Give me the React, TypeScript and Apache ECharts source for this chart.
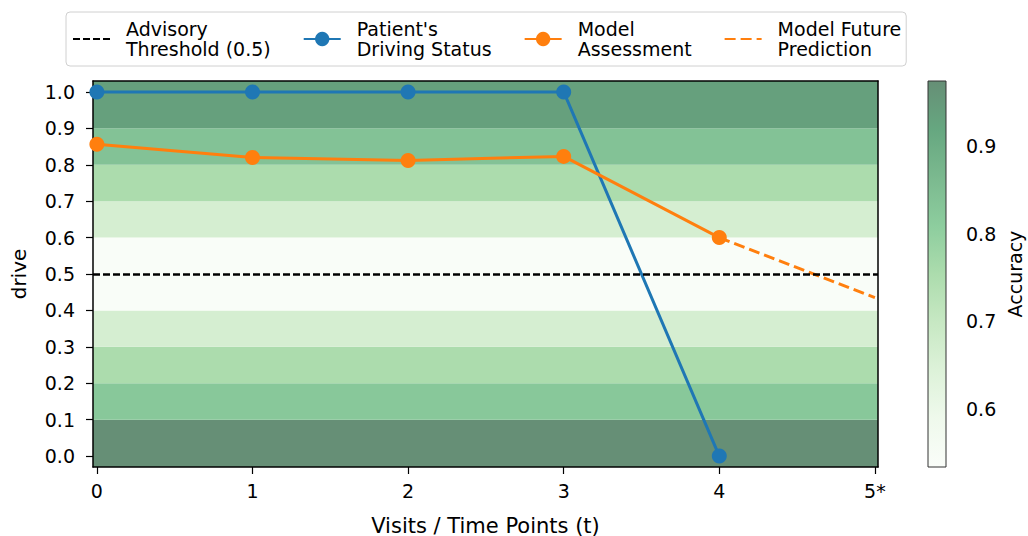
import React, { useEffect, useRef } from "react";
import * as echarts from "echarts";

// ---- data ----
const visits = [0, 1, 2, 3, 4];
const patientStatus = [1, 1, 1, 1, 0];
const modelAssessment = [0.856, 0.82, 0.812, 0.823, 0.6];
const futureVisits = [4, 5];
const futurePrediction = [0.6, 0.435];
const threshold = 0.5;

const xTickValues = [0, 1, 2, 3, 4, 5];
const xTickLabels = ["0", "1", "2", "3", "4", "5*"];
const yTickValues = [0, 0.1, 0.2, 0.3, 0.4, 0.5, 0.6, 0.7, 0.8, 0.9, 1.0];

const bandLower = [-0.05, 0.1, 0.2, 0.3, 0.4, 0.5, 0.6, 0.7, 0.8, 0.9];
const bandUpper = [0.1, 0.2, 0.3, 0.4, 0.5, 0.6, 0.7, 0.8, 0.9, 1.05];
const bandAccuracy = [0.974, 0.823, 0.753, 0.664, 0.54, 0.54, 0.664, 0.753, 0.84, 0.935];

const accuracyMin = 0.534;
const accuracyMax = 0.974;
const colorbarTicks = [0.6, 0.7, 0.8, 0.9];

const NAMES = {
  threshold: "Advisory\nThreshold (0.5)",
  patient: "Patient's\nDriving Status",
  model: "Model\nAssessment",
  future: "Model Future\nPrediction",
};

// ---- colormap (matplotlib Greens, alpha 0.6 over white) ----
const GREENS: [number, number[]][] = [
  [0, [247, 252, 245]],
  [0.125, [229, 245, 224]],
  [0.25, [199, 233, 192]],
  [0.375, [161, 217, 155]],
  [0.5, [116, 196, 118]],
  [0.625, [65, 171, 93]],
  [0.75, [35, 139, 69]],
  [0.875, [0, 109, 44]],
  [1, [0, 68, 27]],
];
const ALPHA = 0.6;
function greensAt(t: number): string {
  t = Math.max(0, Math.min(1, t));
  let i = 0;
  while (i < GREENS.length - 2 && t > GREENS[i + 1][0]) i++;
  const [t0, c0] = GREENS[i];
  const [t1, c1] = GREENS[i + 1];
  const f = (t - t0) / (t1 - t0);
  const c = c0.map((v, k) => v + (c1[k] - v) * f);
  const b = c.map((v) => Math.round(v * ALPHA + 255 * (1 - ALPHA)));
  return `rgb(${b[0]},${b[1]},${b[2]})`;
}
function accColor(a: number): string {
  return greensAt((a - accuracyMin) / (accuracyMax - accuracyMin));
}

const FONT = "DejaVu Sans";
const BLUE = "#1f77b4";
const ORANGE = "#ff7f0e";
const TICK_FS = 19;
const LABEL_FS = 21;

export default function App() {
  const ref = useRef<HTMLDivElement>(null);
  useEffect(() => {
    if (!ref.current) return;
    const chart = echarts.init(ref.current, null, { renderer: "svg" });
    const axisLineStyle = { color: "#000", width: 1.5 };
    const option: any = {
      animation: false,
      backgroundColor: "#fff",
      textStyle: { fontFamily: FONT, color: "#000" },
      legend: {
        left: 66,
        top: 12,
        orient: "horizontal",
        padding: [7, 5, 7, 6],
        itemGap: 32,
        itemWidth: 37,
        itemHeight: 18,
        backgroundColor: "#fff",
        borderColor: "#d0d0d0",
        borderWidth: 1,
        borderRadius: 4,
        textStyle: { fontFamily: FONT, fontSize: TICK_FS, lineHeight: 20, color: "#000", padding: [0, 0, 0, 11] },
        data: [
          { name: NAMES.threshold, itemStyle: { opacity: 0 } },
          { name: NAMES.patient },
          { name: NAMES.model },
          { name: NAMES.future, itemStyle: { opacity: 0 } },
        ],
      },
      grid: [
        { left: 93, top: 81, width: 785, height: 386, containLabel: false, outerBoundsMode: "none" },
        { left: 928, top: 81, width: 18, height: 386, containLabel: false, outerBoundsMode: "none" },
      ],
      xAxis: [
        {
          type: "value",
          gridIndex: 0,
          min: -0.025,
          max: 5.02,
          position: "bottom",
          z: 2,
          axisLine: { show: true, onZero: false, lineStyle: axisLineStyle },
          axisTick: { show: true, customValues: xTickValues, length: 7, lineStyle: { color: "#000", width: 1.2 } },
          axisLabel: {
            customValues: xTickValues,
            formatter: (v: number) => xTickLabels[xTickValues.indexOf(Math.round(v))] ?? "",
            fontSize: TICK_FS,
            color: "#000",
            fontFamily: FONT,
            margin: 14,
          },
          splitLine: { show: false },
          name: "Visits / Time Points (t)",
          nameLocation: "middle",
          nameGap: 48,
          nameTextStyle: { fontSize: LABEL_FS, color: "#000", fontFamily: FONT },
        },
        {
          type: "value",
          gridIndex: 0,
          min: -0.025,
          max: 5.02,
          position: "top",
          z: 2,
          axisLine: { show: true, onZero: false, lineStyle: axisLineStyle },
          axisTick: { show: false },
          axisLabel: { show: false },
          splitLine: { show: false },
        },
        { type: "value", gridIndex: 1, min: 0, max: 1, show: false },
      ],
      yAxis: [
        {
          type: "value",
          gridIndex: 0,
          min: -0.03,
          max: 1.03,
          position: "left",
          z: 2,
          axisLine: { show: true, onZero: false, lineStyle: axisLineStyle },
          axisTick: { show: true, customValues: yTickValues, length: 7, lineStyle: { color: "#000", width: 1.2 } },
          axisLabel: {
            customValues: yTickValues,
            formatter: (v: number) => v.toFixed(1),
            fontSize: TICK_FS,
            color: "#000",
            fontFamily: FONT,
            margin: 18,
          },
          splitLine: { show: false },
          name: "drive",
          nameLocation: "middle",
          nameRotate: 90,
          nameGap: 64,
          nameTextStyle: { fontSize: LABEL_FS - 1, color: "#000", fontFamily: FONT },
        },
        {
          type: "value",
          gridIndex: 0,
          min: -0.03,
          max: 1.03,
          position: "right",
          z: 2,
          axisLine: { show: true, onZero: false, lineStyle: axisLineStyle },
          axisTick: { show: false },
          axisLabel: { show: false },
          splitLine: { show: false },
        },
        {
          type: "value",
          gridIndex: 1,
          min: accuracyMin,
          max: accuracyMax,
          position: "right",
          axisLine: { show: false },
          axisTick: { show: true, customValues: colorbarTicks, length: 8, lineStyle: { color: "#000", width: 1.2 } },
          axisLabel: {
            customValues: colorbarTicks,
            formatter: (v: number) => v.toFixed(1),
            fontSize: TICK_FS,
            color: "#000",
            fontFamily: FONT,
            margin: 20,
          },
          splitLine: { show: false },
          name: "Accuracy",
          nameLocation: "middle",
          nameRotate: 90,
          nameGap: 59,
          nameTextStyle: { fontSize: 19, color: "#000", fontFamily: FONT },
        },
      ],
      series: [
        {
          type: "custom",
          name: "bands",
          xAxisIndex: 0,
          yAxisIndex: 0,
          z: 1,
          silent: true,
          data: bandLower.map((lo, i) => [lo, bandUpper[i], bandAccuracy[i]]),
          renderItem: (params: any, api: any) => {
            const lo = api.value(0);
            const hi = api.value(1);
            const acc = api.value(2);
            const cs = params.coordSys;
            const pTop = api.coord([0, hi]);
            const pBot = api.coord([0, lo]);
            const rect = echarts.graphic.clipRectByRect(
              { x: cs.x, y: pTop[1], width: cs.width, height: pBot[1] - pTop[1] },
              { x: cs.x, y: cs.y, width: cs.width, height: cs.height }
            );
            if (!rect) return null;
            return { type: "rect", shape: rect, style: { fill: accColor(acc) } };
          },
        },
        {
          type: "custom",
          name: "colorbar",
          xAxisIndex: 2,
          yAxisIndex: 2,
          silent: true,
          data: [[0, accuracyMin, accuracyMax]],
          renderItem: (params: any, api: any) => {
            const p1 = api.coord([0, api.value(2)]);
            const p2 = api.coord([1, api.value(1)]);
            const stops = GREENS.map(([t]) => ({ offset: 1 - t, color: greensAt(t) })).reverse();
            return {
              type: "rect",
              shape: { x: p1[0], y: p1[1], width: p2[0] - p1[0], height: p2[1] - p1[1] },
              style: {
                fill: new echarts.graphic.LinearGradient(0, 0, 0, 1, stops),
                stroke: "#333",
                lineWidth: 1,
              },
            };
          },
        },
        {
          type: "line",
          name: NAMES.threshold,
          xAxisIndex: 0,
          yAxisIndex: 0,
          data: [],
          symbol: "none",
          z: 3,
          itemStyle: { color: "#000" },
          lineStyle: { color: "#000", width: 2.6, type: [7, 3] },
          markLine: {
            silent: true,
            symbol: "none",
            label: { show: false },
            lineStyle: { color: "#000", width: 2.6, type: [7, 3] },
            data: [{ yAxis: threshold }],
          },
        },
        {
          type: "line",
          name: NAMES.patient,
          xAxisIndex: 0,
          yAxisIndex: 0,
          data: visits.map((v, i) => [v, patientStatus[i]]),
          symbol: "circle",
          symbolSize: 15,
          clip: false,
          z: 3,
          itemStyle: { color: BLUE },
          lineStyle: { color: BLUE, width: 3 },
        },
        {
          type: "line",
          name: NAMES.model,
          xAxisIndex: 0,
          yAxisIndex: 0,
          data: visits.map((v, i) => [v, modelAssessment[i]]),
          symbol: "circle",
          symbolSize: 15,
          clip: false,
          z: 3,
          itemStyle: { color: ORANGE },
          lineStyle: { color: ORANGE, width: 3 },
        },
        {
          type: "line",
          name: NAMES.future,
          xAxisIndex: 0,
          yAxisIndex: 0,
          data: futureVisits.map((v, i) => [v, futurePrediction[i]]),
          symbol: "none",
          z: 3,
          itemStyle: { color: ORANGE },
          lineStyle: { color: ORANGE, width: 3, type: [11, 5] },
        },
      ],
    };
    chart.setOption(option);
    return () => chart.dispose();
  }, []);
  return <div ref={ref} style={{ position: "fixed", left: 0, top: 0, width: 1028, height: 536 }} />;
}
